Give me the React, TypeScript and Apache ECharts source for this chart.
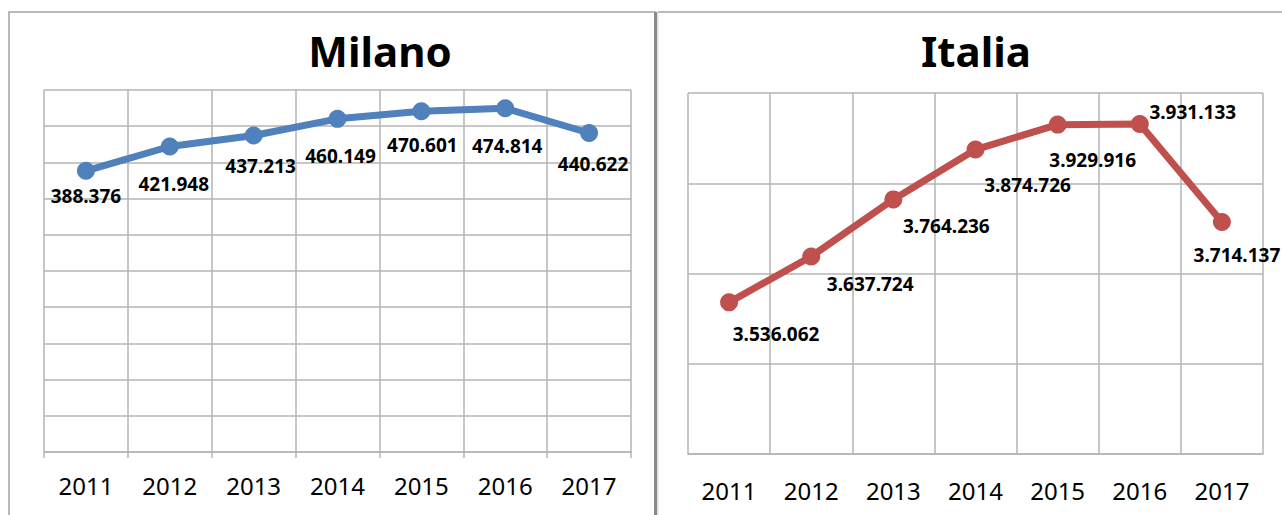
import React, { useEffect, useRef } from "react";
import * as echarts from "echarts";

const years = ["2011", "2012", "2013", "2014", "2015", "2016", "2017"];
const milanoValues = [388376, 421948, 437213, 460149, 470601, 474814, 440622];
const italiaValues = [3536062, 3637724, 3764236, 3874726, 3929916, 3931133, 3714137];
const milanoTitle = "Milano";
const italiaTitle = "Italia";

// label placement (offsets from the marker centre), styling only
const milanoLabelOffsets = [[0, 25], [4, 37], [7, 31], [3, 37], [1, 34], [2, 38], [4, 31]];
const italiaLabelOffsets = [[47, 32], [59, 28], [53, 27], [52, 35], [35, 35], [53, -12], [15, 33]];

const fmt = (v: number) => String(v).replace(/\B(?=(\d{3})+(?!\d))/g, ".");
const FONT = '"Noto Sans", "Open Sans", sans-serif';
const GRID_COLOR = "#B5B5B5";

export default function App() {
  const ref = useRef<HTMLDivElement>(null);
  useEffect(() => {
    if (!ref.current) return;
    const chart = echarts.init(ref.current, null, { renderer: "svg" });
    const mkData = (vals: number[], offs: number[][]) =>
      vals.map((v, i) => ({
        value: v,
        label: { offset: offs[i] },
      }));
    const labelStyle = {
      show: true,
      position: "inside" as const,
      color: "#000",
      fontFamily: FONT,
      fontWeight: "bold" as const,
      fontSize: 19,
      formatter: (p: any) => fmt(p.value),
    };
    const xAxisBase = (gridIndex: number, ticks: boolean, margin: number) => ({
      type: "category" as const,
      gridIndex,
      data: years,
      boundaryGap: true,
      axisLine: { show: true, lineStyle: { color: GRID_COLOR, width: 1.5 } },
      axisTick: { show: ticks, length: 6, lineStyle: { color: GRID_COLOR, width: 1.5 } },
      axisLabel: { color: "#000", fontFamily: FONT, fontSize: 24, margin },
      splitLine: { show: true, lineStyle: { color: GRID_COLOR, width: 1.5 } },
    });
    chart.setOption({
      animation: false,
      backgroundColor: "#fff",
      grid: [
        { left: 44, top: 90, width: 587, height: 362 },
        { left: 688, top: 93, width: 575, height: 361 },
      ],
      xAxis: [xAxisBase(0, true, 21), xAxisBase(1, false, 24)],
      yAxis: [
        {
          type: "value",
          gridIndex: 0,
          min: 0,
          max: 500000,
          interval: 50000,
          axisLabel: { show: false },
          axisLine: { show: false },
          axisTick: { show: false },
          splitLine: { show: true, lineStyle: { color: GRID_COLOR, width: 1.5 } },
        },
        {
          type: "value",
          gridIndex: 1,
          min: 3200000,
          max: 4000000,
          interval: 200000,
          axisLabel: { show: false },
          axisLine: { show: false },
          axisTick: { show: false },
          splitLine: { show: true, lineStyle: { color: GRID_COLOR, width: 1.5 } },
        },
      ],
      series: [
        {
          type: "line",
          name: milanoTitle,
          xAxisIndex: 0,
          yAxisIndex: 0,
          data: mkData(milanoValues, milanoLabelOffsets),
          symbol: "circle",
          symbolSize: 18,
          lineStyle: { color: "#4F81BD", width: 7 },
          itemStyle: { color: "#4F81BD" },
          label: labelStyle,
          z: 5,
        },
        {
          type: "line",
          name: italiaTitle,
          xAxisIndex: 1,
          yAxisIndex: 1,
          data: mkData(italiaValues, italiaLabelOffsets),
          symbol: "circle",
          symbolSize: 18,
          lineStyle: { color: "#C0504D", width: 7 },
          itemStyle: { color: "#C0504D" },
          label: labelStyle,
          z: 5,
        },
      ],
      graphic: [
        {
          type: "rect",
          silent: true,
          shape: { x: 9, y: 12, width: 646, height: 520 },
          style: { fill: "none", stroke: "#A3A3A3", lineWidth: 1.5 },
        },
        {
          type: "line",
          silent: true,
          shape: { x1: 657.5, y1: 12, x2: 1290, y2: 12 },
          style: { stroke: "#A3A3A3", lineWidth: 1.5 },
        },
        {
          type: "line",
          silent: true,
          shape: { x1: 655.5, y1: 12, x2: 655.5, y2: 520 },
          style: { stroke: "#8A8A8A", lineWidth: 3 },
        },
        {
          type: "line",
          silent: true,
          shape: { x1: 657.8, y1: 12, x2: 657.8, y2: 520 },
          style: { stroke: "#D0D0D0", lineWidth: 1 },
        },
        {
          type: "text",
          x: 380,
          y: 50,
          style: {
            text: milanoTitle,
            textAlign: "center",
            textVerticalAlign: "middle",
            font: `bold 42px ${FONT}`,
            fill: "#000",
          },
        },
        {
          type: "text",
          x: 976,
          y: 50,
          style: {
            text: italiaTitle,
            textAlign: "center",
            textVerticalAlign: "middle",
            font: `bold 42px ${FONT}`,
            fill: "#000",
          },
        },
      ],
    });
    return () => chart.dispose();
  }, []);
  return (
    <div
      ref={ref}
      style={{ position: "absolute", left: 0, top: 0, width: 1282, height: 515 }}
    />
  );
}
